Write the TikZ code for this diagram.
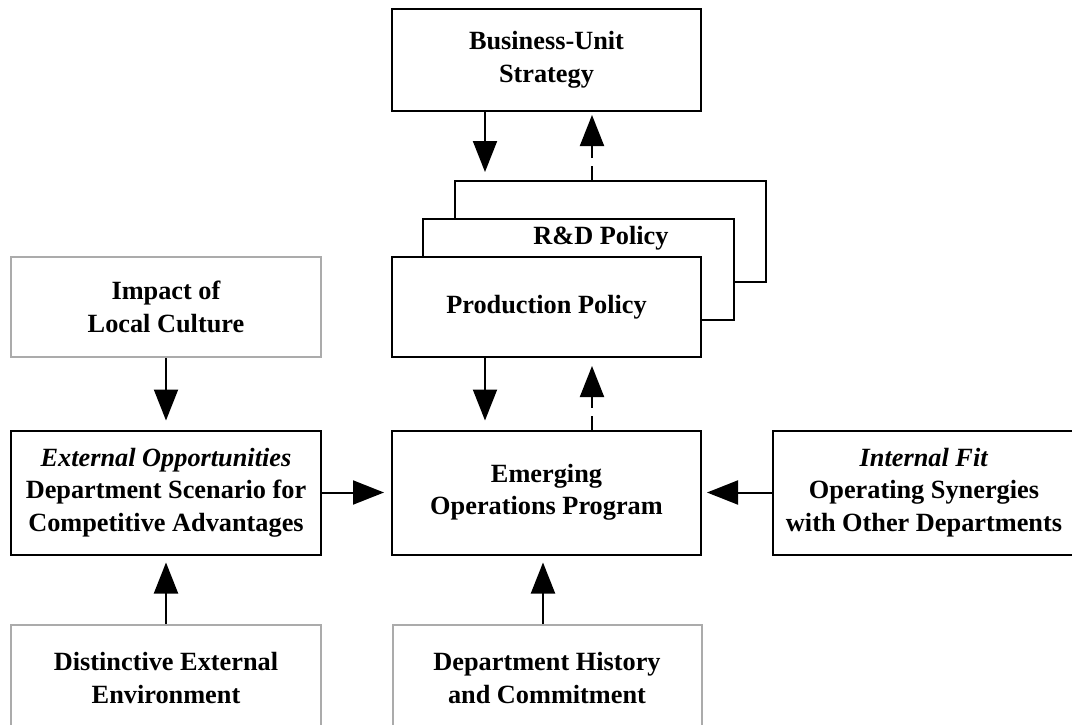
\documentclass[tikz,border=0pt]{standalone}
\usepackage{fontspec}
\setmainfont{Liberation Serif}
\usetikzlibrary{arrows.meta}
\tikzset{
  txt/.style={font=\fontsize{26.3}{32.5}\selectfont\bfseries},
  box/.style={txt, draw=black, line width=2pt, fill=white, align=center, inner sep=0pt},
  greybox/.style={box, draw=black!33},
  arr/.style={line width=2pt, -{Triangle[length=31pt,width=24pt]}},
  darr/.style={arr, dash pattern=on 14pt off 8pt},
  lbl/.style={txt, inner sep=0pt}
}
\begin{document}
\begin{tikzpicture}[x=1pt,y=-1pt]
\useasboundingbox (0,0) rectangle (1072,724);
\clip (0,0) rectangle (1072,724);

% top strategy box
\node[box, minimum width=309pt, minimum height=102pt] (bu) at (546.5,60) {Business-Unit\\Strategy};

% stacked policy boxes
\node[box, minimum width=311pt, minimum height=101pt] (back) at (610.5,231.5) {};
\node[box, minimum width=311pt, minimum height=101pt] (mid) at (578.5,269.5) {};
\node[lbl] (rd) at (601,238) {R\&D Policy};
\node[box, minimum width=309pt, minimum height=100pt] (prod) at (546.5,307) {Production Policy};

% left column
\node[greybox, minimum width=310pt, minimum height=100pt] (culture) at (166,307) {Impact of\\Local Culture};
\node[box, minimum width=310pt, minimum height=124pt] (ext) at (166,492.5) {\textit{External Opportunities}\\Department Scenario for\\Competitive Advantages};
\node[greybox, minimum width=310pt, minimum height=106pt] (env) at (166,678) {Distinctive External\\Environment};

% centre column
\node[box, minimum width=309pt, minimum height=124pt] (emo) at (546.5,492.5) {Emerging\\Operations Program};
\node[greybox, minimum width=309pt, minimum height=106pt] (hist) at (547,678) {Department History\\and Commitment};

% right column
\node[box, minimum width=302pt, minimum height=124pt] (fit) at (924,492.5) {\textit{Internal Fit}\\Operating Synergies\\with Other Departments};

% connectors
\coordinate (xa) at (485,0);
\coordinate (xb) at (592,0);
\draw[arr, shorten >=8pt] (bu.south -| xa) -- (back.north -| xa);
\draw[darr, shorten >=3pt] (back.north -| xb) -- (bu.south -| xb);
\draw[arr, shorten >=9pt] (prod.south -| xa) -- (emo.north -| xa);
\draw[darr, shorten >=8pt] (emo.north -| xb) -- (prod.south -| xb);
\draw[arr, shorten >=9pt] (culture) -- (ext);
\draw[arr, shorten >=7pt] (env) -- (ext);
\draw[arr, shorten >=7pt] (ext) -- (emo);
\draw[arr, shorten >=5pt] (fit) -- (emo);
\coordinate (xc) at (543,0);
\draw[arr, shorten >=7pt] (hist.north -| xc) -- (emo.south -| xc);
\end{tikzpicture}
\end{document}
